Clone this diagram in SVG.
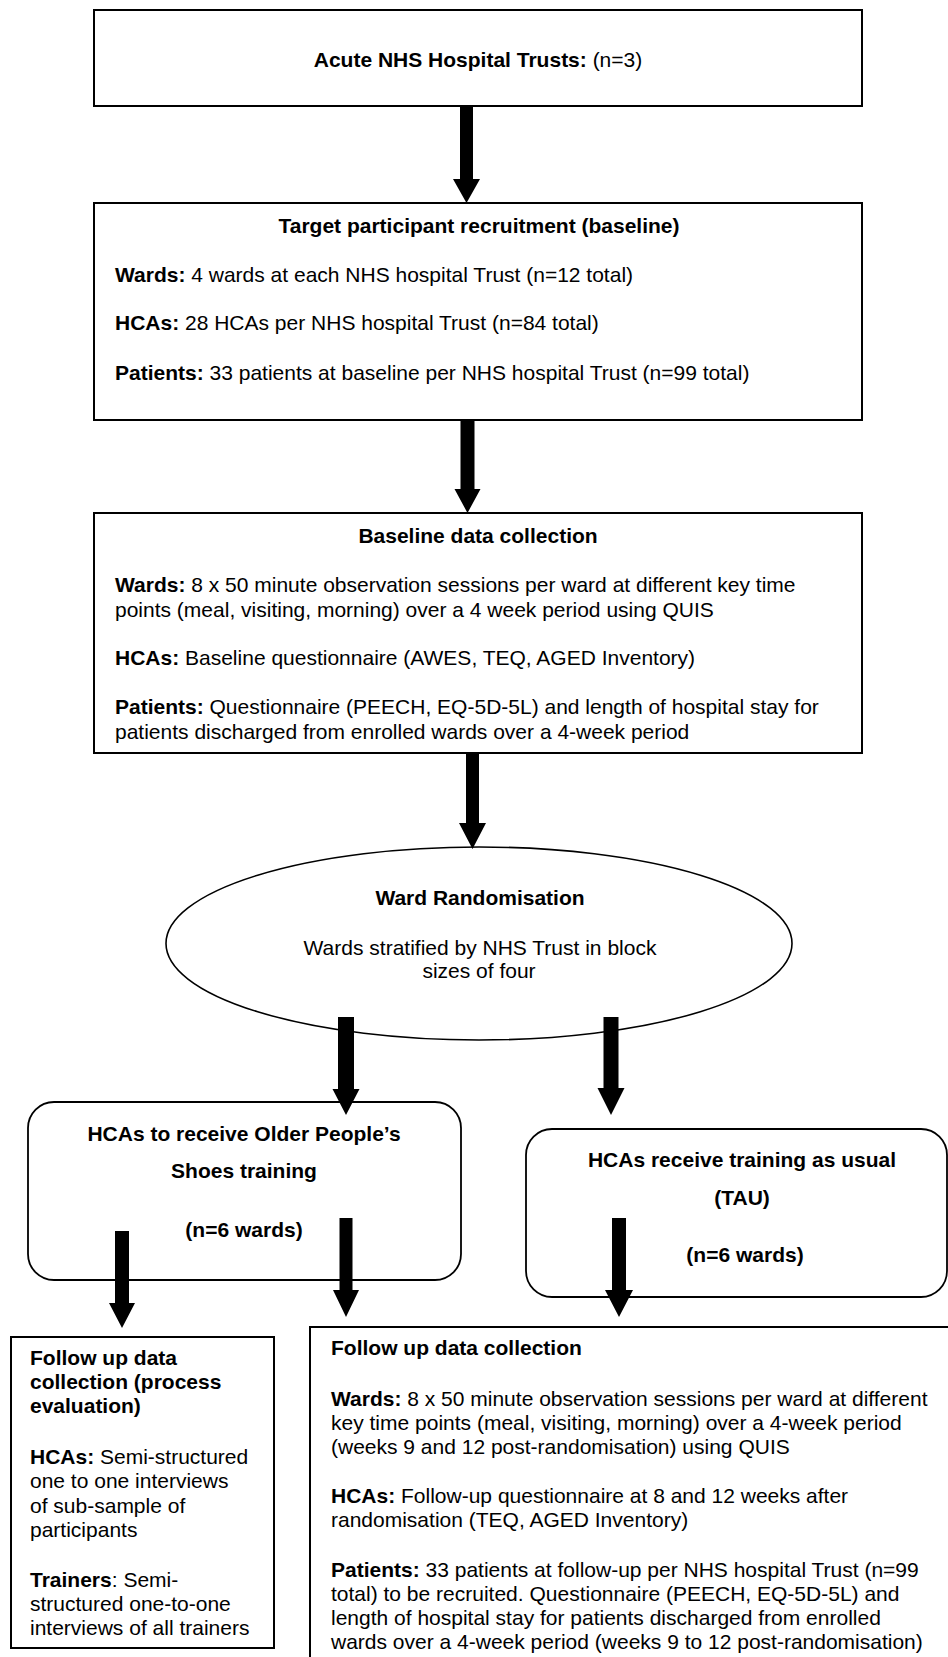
<svg xmlns="http://www.w3.org/2000/svg" width="948" height="1657" viewBox="0 0 948 1657">
<style>
text { font-family: "Liberation Sans", Arial, sans-serif; font-size: 21px; fill: #000; }
.b { font-weight: bold; }
.c { text-anchor: middle; }
.box { fill: #fff; stroke: #000; stroke-width: 2; }
.rbox { fill: #fff; stroke: #000; stroke-width: 1.8; }
.arrow { fill: #000; stroke: none; }
</style>
<rect x="0" y="0" width="948" height="1657" fill="#fff"/>

<g id="trusts">
<rect class="box" x="94" y="10" width="768" height="96"/>
<text class="c" x="478" y="67"><tspan class="b">Acute NHS Hospital Trusts:</tspan> (n=3)</text>
</g>

<g id="recruitment">
<rect class="box" x="94" y="203" width="768" height="217"/>
<text class="b c" x="479" y="233">Target participant recruitment (baseline)</text>
<text x="115" y="282"><tspan class="b">Wards:</tspan> 4 wards at each NHS hospital Trust (n=12 total)</text>
<text x="115" y="330"><tspan class="b">HCAs:</tspan> 28 HCAs per NHS hospital Trust (n=84 total)</text>
<text x="115" y="380"><tspan class="b">Patients:</tspan> 33 patients at baseline per NHS hospital Trust (n=99 total)</text>
</g>

<g id="baseline">
<rect class="box" x="94" y="513" width="768" height="240"/>
<text class="b c" x="478" y="543">Baseline data collection</text>
<text x="115" y="592"><tspan class="b">Wards:</tspan> 8 x 50 minute observation sessions per ward at different key time</text>
<text x="115" y="617">points (meal, visiting, morning) over a 4 week period using QUIS</text>
<text x="115" y="665"><tspan class="b">HCAs:</tspan> Baseline questionnaire (AWES, TEQ, AGED Inventory)</text>
<text x="115" y="714"><tspan class="b">Patients:</tspan> Questionnaire (PEECH, EQ-5D-5L) and length of hospital stay for</text>
<text x="115" y="739">patients discharged from enrolled wards over a 4-week period</text>
</g>

<g id="randomisation">
<ellipse cx="479" cy="943.5" rx="313" ry="96.5" fill="#fff" stroke="#000" stroke-width="1.6"/>
<text class="b c" x="480" y="905">Ward Randomisation</text>
<text class="c" x="480" y="955">Wards stratified by NHS Trust in block</text>
<text class="c" x="479" y="978">sizes of four</text>
</g>

<g id="intervention">
<rect class="rbox" x="28" y="1102" width="433" height="178" rx="26" ry="26"/>
<text class="b c" x="244" y="1141">HCAs to receive Older People’s</text>
<text class="b c" x="244" y="1178">Shoes training</text>
<text class="b c" x="244" y="1237">(n=6 wards)</text>
</g>

<g id="tau">
<rect class="rbox" x="526" y="1129" width="421" height="168" rx="26" ry="26"/>
<text class="b c" x="742" y="1167">HCAs receive training as usual</text>
<text class="b c" x="742" y="1205">(TAU)</text>
<text class="b c" x="745" y="1262">(n=6 wards)</text>
</g>

<g id="process-evaluation">
<rect class="box" x="11" y="1337" width="263" height="311"/>
<text class="b" x="30" y="1365">Follow up data</text>
<text class="b" x="30" y="1389">collection (process</text>
<text class="b" x="30" y="1413">evaluation)</text>
<text x="30" y="1464"><tspan class="b">HCAs:</tspan> Semi-structured</text>
<text x="30" y="1488">one to one interviews</text>
<text x="30" y="1513">of sub-sample of</text>
<text x="30" y="1537">participants</text>
<text x="30" y="1587"><tspan class="b">Trainers</tspan>: Semi-</text>
<text x="30" y="1611">structured one-to-one</text>
<text x="30" y="1635">interviews of all trainers</text>
</g>

<g id="followup">
<rect class="box" x="310" y="1327" width="700" height="400"/>
<text class="b" x="331" y="1355">Follow up data collection</text>
<text x="331" y="1406"><tspan class="b">Wards:</tspan> 8 x 50 minute observation sessions per ward at different</text>
<text x="331" y="1430">key time points (meal, visiting, morning) over a 4-week period</text>
<text x="331" y="1454">(weeks 9 and 12 post-randomisation) using QUIS</text>
<text x="331" y="1503"><tspan class="b">HCAs:</tspan> Follow-up questionnaire at 8 and 12 weeks after</text>
<text x="331" y="1527">randomisation (TEQ, AGED Inventory)</text>
<text x="331" y="1577"><tspan class="b">Patients:</tspan> 33 patients at follow-up per NHS hospital Trust (n=99</text>
<text x="331" y="1601">total) to be recruited. Questionnaire (PEECH, EQ-5D-5L) and</text>
<text x="331" y="1625">length of hospital stay for patients discharged from enrolled</text>
<text x="331" y="1649">wards over a 4-week period (weeks 9 to 12 post-randomisation)</text>
</g>

<g id="connectors">
<polygon class="arrow" points="460,106 473,106 473,179 480,179 466.5,203 453,179 460,179"/>
<polygon class="arrow" points="460.5,420 474.5,420 474.5,489 480.5,489 467.5,513 454.5,489 460.5,489"/>
<polygon class="arrow" points="466,753 479,753 479,823 486,823 472.5,849 459,823 466,823"/>
<polygon class="arrow" points="338,1017 354,1017 354,1089 359.5,1089 346,1115 332.5,1089 338,1089"/>
<polygon class="arrow" points="603.5,1017 618.5,1017 618.5,1088 624.5,1088 611,1115 597.5,1088 603.5,1088"/>
<polygon class="arrow" points="115,1231 129,1231 129,1303 135,1303 122,1328 109,1303 115,1303"/>
<polygon class="arrow" points="339.5,1218 352.5,1218 352.5,1290 359,1290 346,1317 333,1290 339.5,1290"/>
<polygon class="arrow" points="612,1218 626,1218 626,1290 633,1290 619,1317 605,1290 612,1290"/>
</g>
</svg>
